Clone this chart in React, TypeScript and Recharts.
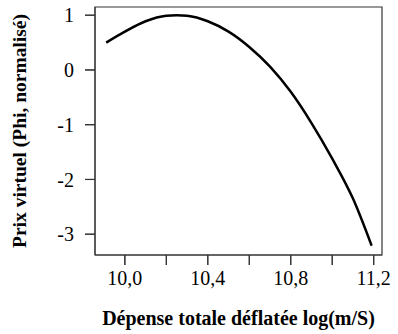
import React from "react";
import { LineChart, Line, XAxis, YAxis, ReferenceArea } from "recharts";

const depense = [9.91, 10.0, 10.1, 10.2, 10.25, 10.3, 10.4, 10.5, 10.6, 10.7, 10.8, 10.9, 11.0, 11.1, 11.19];
const prix = [0.5, 0.7, 0.89, 0.99, 1.0, 0.99, 0.89, 0.7, 0.42, 0.06, -0.4, -0.97, -1.62, -2.35, -3.21];
const xTicks = [10.0, 10.2, 10.4, 10.6, 10.8, 11.0, 11.2];
const xLabelled = [10.0, 10.4, 10.8, 11.2];
const yTicks = [-3, -2, -1, 0, 1];
const xTitle = "Dépense totale déflatée log(m/S)";
const yTitle = "Prix virtuel (Phi, normalisé)";

const data = depense.map((x, i) => ({ x, y: prix[i] }));

const X_DOMAIN: [number, number] = [9.856, 11.24];
const Y_DOMAIN: [number, number] = [-3.38, 1.15];
const FONT = "Liberation Serif";
const axisColor = "#333";
// tick mark size expressed in data units (10px long, ~1px thick)
const Y_PER_PX = (Y_DOMAIN[1] - Y_DOMAIN[0]) / 248;
const X_PER_PX = (X_DOMAIN[1] - X_DOMAIN[0]) / 287;

export default function App() {
  return (
    <div style={{ position: "absolute", left: 0, top: 0 }}>
      <LineChart width={398} height={334} data={data} margin={{ top: 7, right: 16, left: 0, bottom: 0 }}>
        <XAxis
          dataKey="x"
          type="number"
          domain={X_DOMAIN}
          ticks={xTicks}
          height={79}
          tickSize={10}
          tickMargin={6}
          axisLine={{ stroke: axisColor }}
          tickLine={{ stroke: axisColor }}
          tick={{ fontSize: 20, fill: "#000", fontFamily: FONT }}
          tickFormatter={(v: number) =>
            xLabelled.some((t) => Math.abs(t - v) < 1e-6) ? v.toFixed(1).replace(".", ",") : ""
          }
          label={{
            value: xTitle,
            position: "insideBottom",
            offset: 9,
            fontFamily: FONT,
            fontSize: 20,
            fontWeight: "bold",
            fill: "#000",
          }}
        />
        <YAxis
          domain={Y_DOMAIN}
          ticks={yTicks}
          width={95}
          tickSize={10}
          tickMargin={11}
          axisLine={{ stroke: axisColor }}
          tickLine={{ stroke: axisColor }}
          tick={{ fontSize: 20, fill: "#000", fontFamily: FONT }}
          label={{
            value: yTitle,
            angle: -90,
            position: "insideLeft",
            offset: 19,
            fontFamily: FONT,
            fontSize: 19.5,
            fontWeight: "bold",
            fill: "#000",
            textAnchor: "middle",
          }}
        />
        <ReferenceArea
          x1={X_DOMAIN[0]}
          x2={X_DOMAIN[1]}
          y1={Y_DOMAIN[0]}
          y2={Y_DOMAIN[1]}
          fill="none"
          fillOpacity={0}
          stroke={axisColor}
          strokeWidth={1.2}
          ifOverflow="visible"
        />
        {xTicks.map((t) => (
          <ReferenceArea
            key={"xt" + t}
            x1={t - 0.6 * X_PER_PX}
            x2={t + 0.6 * X_PER_PX}
            y1={Y_DOMAIN[0] - 10 * Y_PER_PX}
            y2={Y_DOMAIN[0]}
            fill={axisColor}
            fillOpacity={1}
            stroke="none"
            ifOverflow="visible"
          />
        ))}
        {yTicks.map((t) => (
          <ReferenceArea
            key={"yt" + t}
            x1={X_DOMAIN[0] - 10 * X_PER_PX}
            x2={X_DOMAIN[0]}
            y1={t - 0.6 * Y_PER_PX}
            y2={t + 0.6 * Y_PER_PX}
            fill={axisColor}
            fillOpacity={1}
            stroke="none"
            ifOverflow="visible"
          />
        ))}
        <Line
          type="monotone"
          dataKey="y"
          stroke="#000"
          strokeWidth={2.5}
          dot={false}
          isAnimationActive={false}
        />
      </LineChart>
    </div>
  );
}
